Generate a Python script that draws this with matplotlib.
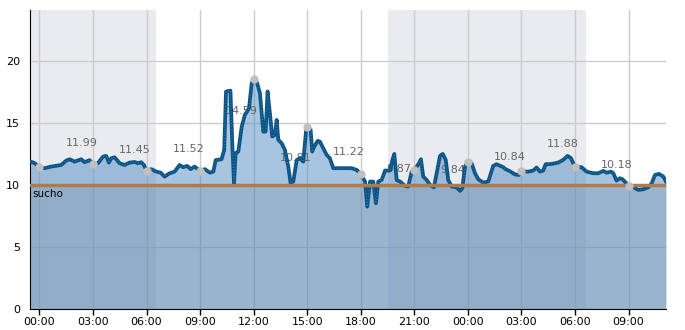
import numpy as np
import matplotlib
matplotlib.use('Agg')
import matplotlib.pyplot as plt

# hours since midnight of day 1 and readings
hours = [-0.53, -0.49, -0.27, 0.0, 0.29, 0.66, 1.22, 1.5, 1.69, 1.97, 2.34, 2.53, 2.81, 3.0,
         3.28, 3.56, 3.74, 3.89, 4.02, 4.21, 4.49, 4.77, 5.05, 5.33, 5.52, 5.7, 5.85, 6.0,
         6.27, 6.55, 6.79, 7.01, 7.29, 7.57, 7.85, 8.04, 8.28, 8.47, 8.69, 9.0, 9.27, 9.55,
         9.74, 9.87, 10.2, 10.35, 10.45, 10.7, 10.8, 10.9, 10.99, 11.14, 11.33, 11.51, 11.74,
         11.89, 12.0, 12.17, 12.35, 12.54, 12.67, 12.78, 12.91, 13.04, 13.19, 13.29, 13.38,
         13.57, 13.75, 13.94, 14.07, 14.22, 14.41, 14.59, 14.78, 14.93, 15.0, 15.19, 15.28,
         15.39, 15.59, 15.71, 16.09, 16.27, 16.46, 16.93, 17.49, 17.77, 18.0, 18.24, 18.36,
         18.52, 18.7, 18.85, 18.98, 19.17, 19.36, 19.64, 19.77, 19.88, 20.01, 20.2, 20.48,
         20.66, 20.85, 21.0, 21.26, 21.37, 21.5, 21.69, 21.88, 22.1, 22.25, 22.44, 22.59,
         22.76, 22.9, 23.09, 23.37, 23.56, 23.69, 23.84, 24.0, 24.21, 24.4, 24.58, 24.86,
         25.14, 25.42, 25.61, 25.98, 26.08, 26.36, 26.64, 26.86, 27.0, 27.38, 27.66, 27.85,
         28.04, 28.22, 28.36, 28.69, 29.06, 29.34, 29.59, 29.78, 30.0, 30.37, 30.65, 31.03,
         31.3, 31.59, 31.77, 32.02, 32.15, 32.33, 32.52, 32.66, 32.84, 33.0, 33.27, 33.55,
         33.82, 34.11, 34.3, 34.48, 34.71, 34.95, 35.1]
values = [11.9, 11.88, 11.75, 11.43, 11.35, 11.48, 11.61, 11.96, 12.07, 11.88, 12.07, 11.83, 12.0, 11.69,
          11.75, 12.28, 12.34, 11.8, 12.15, 12.23, 11.75, 11.61, 11.8, 11.85, 11.75, 11.83, 11.61, 11.16,
          11.27, 11.07, 10.99, 10.67, 10.94, 11.07, 11.61, 11.43, 11.53, 11.27, 11.48, 11.13, 11.27, 10.99,
          11.07, 12.0, 12.07, 12.82, 17.53, 17.6, 13.36, 10.13, 12.56, 12.69, 14.7, 15.65, 16.18,
          18.2, 18.52, 18.33, 17.4, 14.3, 14.3, 17.53, 15.78, 13.9, 14.03, 15.24, 13.63,
          13.36, 12.82, 11.48, 10.13, 10.27, 12.0, 12.15, 11.88, 14.3, 14.65, 14.44, 12.69,
          13.09, 13.55, 13.49, 12.42, 12.15, 11.35, 11.35, 11.35, 11.21, 10.89, 10.27, 8.25,
          10.27, 10.27, 8.52, 10.27, 10.4, 11.16, 11.16, 12.0, 12.5, 10.4, 10.27, 9.92,
          9.87, 11.07, 11.2, 11.75, 12.07, 10.67, 10.4, 10.0, 9.81, 10.94, 12.34, 12.5,
          12.02, 10.4, 9.87, 9.81, 9.52, 9.73, 11.48, 11.83, 11.75, 10.94, 10.46, 10.19,
          10.27, 11.53, 11.67, 11.43, 11.3, 11.1, 10.85, 10.8, 11.1, 11.07, 11.16, 11.4,
          11.07, 11.16, 11.67, 11.69, 11.8, 12.02, 12.34, 12.15, 11.43, 11.43, 11.07, 10.94,
          10.94, 11.13, 10.99, 11.07, 10.94, 10.35, 10.54, 10.46, 10.19, 9.92, 9.81, 9.6,
          9.65, 9.81, 10.13, 10.8, 10.89, 10.67, 10.27]

# points marked every 3 hours
mark_hours = [0, 3, 6, 9, 12, 15, 18, 21, 24, 27, 30, 33]
mark_values = [11.43, 11.69, 11.16, 11.13, 18.52, 14.65, 10.89, 11.2, 11.83, 11.1, 11.43, 9.92]

# 3-hour averages
avg_hours = [1.5, 4.5, 7.5, 10.5, 13.5, 16.5, 19.5, 22.5, 25.5, 28.5, 31.5]
avg_values = [11.99, 11.45, 11.52, 14.59, 10.81, 11.22, 9.87, 9.84, 10.84, 11.88, 10.18]

# night periods
nights = [(-0.53, 6.51), (19.54, 30.6)]

threshold = 10
threshold_label = 'sucho'

fig = plt.figure(figsize=(6.85, 3.3), dpi=100)
ax = fig.add_axes([30/685, 21/330, 636/685, 299/330])

for start, end in nights:
    ax.axvspan(start, end, color='#eaebf0', zorder=0, lw=0)

ax.fill_between(hours, values, 0, color='#518bc3', alpha=0.5, lw=0, zorder=1)
ax.axhspan(0, threshold, color='#788ca0', alpha=0.27, lw=0, zorder=1.5)

# averages, written from the middle of each 3h window
for h, v in zip(avg_hours, avg_values):
    ax.text(h - 0.05, v + 1.4, '%.2f' % v, color='#666666', fontsize=8, ha='left', va='center', zorder=2)

ax.plot(hours, values, color='#0b5486', lw=2.7, zorder=3, solid_joinstyle='round')
ax.plot(hours, values, color='#4f88b8', lw=0.6, linestyle=(0, (1, 2.5)), zorder=3.1)
ax.axhline(threshold, color='#b07b48', lw=2.5, zorder=4)
ax.plot(mark_hours, mark_values, 'o', color='#c0c0c0', ms=6, mec='none', zorder=5)
ax.text(-0.4, threshold - 0.35, threshold_label, fontsize=7.5, ha='left', va='top', zorder=6)

ax.set_xlim(-0.53, 35.1)
ax.set_ylim(0, 24.1)
ax.set_xticks(mark_hours)
ax.set_xticklabels(['%02d:00' % (h % 24) for h in mark_hours])
ax.set_yticks([0, 5, 10, 15, 20])
ax.tick_params(axis='x', length=4, width=1, labelsize=8, pad=2)
ax.tick_params(axis='y', length=0, labelsize=8, pad=7)
ax.grid(True, color='#cccccc', lw=1)
ax.set_axisbelow(True)
for s in ['top', 'right']:
    ax.spines[s].set_visible(False)

fig.savefig('out.png', dpi=100)
